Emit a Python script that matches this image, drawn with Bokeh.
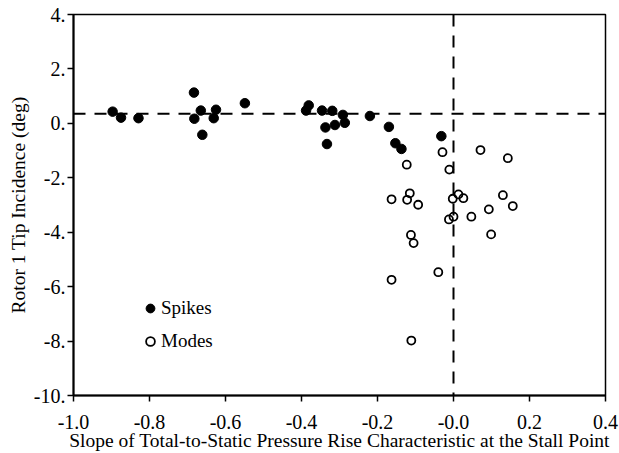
from bokeh.plotting import figure
from bokeh.models import FixedTicker, Span, Legend, LegendItem, ColumnDataSource, Range1d
from bokeh.embed import file_html
from bokeh.resources import INLINE

# ---- data ----
spikes_x = [-0.897, -0.875, -0.829, -0.683, -0.682, -0.665, -0.661, -0.631, -0.625, -0.549,
            -0.388, -0.381, -0.346, -0.337, -0.333, -0.319, -0.312, -0.291, -0.286, -0.220,
            -0.170, -0.153, -0.137, -0.032]
spikes_y = [0.43, 0.21, 0.19, 1.13, 0.17, 0.47, -0.42, 0.19, 0.50, 0.74,
            0.47, 0.66, 0.47, -0.15, -0.76, 0.46, -0.06, 0.31, 0.02, 0.27,
            -0.13, -0.73, -0.94, -0.47]

modes_x = [-0.123, -0.029, 0.071, 0.143, -0.011, -0.163, -0.115, -0.122, -0.093, -0.002,
           0.013, 0.026, 0.130, 0.156, 0.093, 0.047, -0.012, 0.000, -0.112, -0.105,
           0.099, -0.163, -0.040, -0.111]
modes_y = [-1.52, -1.06, -0.98, -1.28, -1.70, -2.79, -2.57, -2.81, -2.99, -2.77,
           -2.61, -2.75, -2.64, -3.04, -3.16, -3.43, -3.53, -3.43, -4.10, -4.40,
           -4.08, -5.75, -5.47, -7.98]

ref_y = 0.35   # horizontal dashed reference
ref_x = 0.0    # vertical dashed reference

x_ticks = [-1.0, -0.8, -0.6, -0.4, -0.2, 0.0, 0.2, 0.4]
x_tick_labels = ["-1.0", "-0.8", "-0.6", "-0.4", "-0.2", "-0.0", "0.2", "0.4"]
y_ticks = [4, 2, 0, -2, -4, -6, -8, -10]
y_tick_labels = ["4.", "2.", "0.", "-2.", "-4.", "-6.", "-8.", "-10."]

FONT = "Liberation Serif"

p = figure(width=619, height=453, output_backend="svg", toolbar_location=None,
           x_range=Range1d(-1.0, 0.4), y_range=Range1d(-10, 4),
           min_border_left=73, min_border_right=14, min_border_top=14, min_border_bottom=58)

p.grid.visible = False
p.outline_line_color = "black"
p.outline_line_width = 1.5
p.background_fill_color = "white"
p.border_fill_color = "white"

for ax in (p.xaxis[0], p.yaxis[0]):
    ax.axis_line_width = 2
    ax.axis_line_color = "black"
    ax.major_tick_line_width = 1.5
    ax.major_tick_line_color = "black"
    ax.major_tick_out = 6
    ax.major_tick_in = 0
    ax.minor_tick_line_color = None
    ax.major_label_text_font = FONT
    ax.major_label_text_font_size = "20px"
    ax.major_label_text_color = "black"
    ax.axis_label_text_font = FONT
    ax.axis_label_text_font_size = "19.5px"
    ax.axis_label_text_font_style = "normal"
    ax.axis_label_text_color = "black"

p.xaxis.ticker = FixedTicker(ticks=x_ticks)
p.xaxis.major_label_overrides = dict(zip(x_ticks, x_tick_labels))
p.yaxis.ticker = FixedTicker(ticks=y_ticks)
p.yaxis.major_label_overrides = dict(zip(y_ticks, y_tick_labels))
p.xaxis.major_label_standoff = 13
p.xaxis.axis_label_standoff = -2
p.yaxis.major_label_standoff = 2
p.yaxis.axis_label_standoff = 2

p.xaxis.axis_label = "Slope of Total-to-Static Pressure Rise Characteristic at the Stall Point"
p.yaxis.axis_label = "Rotor 1 Tip Incidence (deg)"

p.add_layout(Span(location=ref_y, dimension="width", line_color="black",
                  line_width=2, line_dash="12 9"))
p.add_layout(Span(location=ref_x, dimension="height", line_color="black",
                  line_width=2, line_dash="12 9"))

src_s = ColumnDataSource(dict(x=spikes_x, y=spikes_y))
src_m = ColumnDataSource(dict(x=modes_x, y=modes_y))

r_s = p.scatter("x", "y", source=src_s, marker="circle", size=9.5,
                fill_color="black", line_color="black", line_width=1)
r_m = p.scatter("x", "y", source=src_m, marker="circle", size=8,
                fill_color=None, line_color="black", line_width=1.8)

legend = Legend(items=[LegendItem(label="Spikes", renderers=[r_s]),
                       LegendItem(label="Modes", renderers=[r_m])],
                location=(66, 43), border_line_color=None, background_fill_alpha=0,
                padding=0, margin=0, spacing=11, glyph_width=22, glyph_height=22,
                label_height=22, label_standoff=0,
                label_text_font=FONT, label_text_font_size="19px",
                label_text_color="black")
p.add_layout(legend)

open("out.html", "w").write(file_html(p, INLINE))
